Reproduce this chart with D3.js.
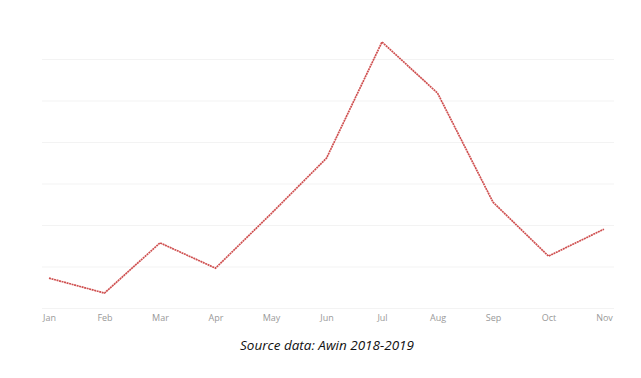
<!DOCTYPE html>
<html>
<head>
<meta charset="utf-8">
<script src="https://cdn.jsdelivr.net/npm/d3@7"></script>
<style>
  body { margin: 0; background: #fff; }
  svg { display: block; }
</style>
</head>
<body>
<svg id="chart" width="641" height="378"></svg>
<script>
const months = ["Jan", "Feb", "Mar", "Apr", "May", "Jun", "Jul", "Aug", "Sep", "Oct", "Nov"];
const values = [7.2, 3.6, 15.7, 9.6, 22.7, 36.1, 64.1, 51.8, 25.5, 12.5, 19.0];
const gridValues = [0, 10, 20, 30, 40, 50, 60];
const caption = "Source data: Awin 2018-2019";

const svg = d3.select("#chart");
const margin = { left: 42, right: 27 };
const width = 641;

const x = d3.scalePoint()
    .domain(months)
    .range([49, 604]);

const y = d3.scaleLinear()
    .domain([0, 60])
    .range([308, 59]);

// light horizontal gridlines
svg.append("g")
    .selectAll("line")
    .data(gridValues)
    .enter()
    .append("line")
    .attr("x1", margin.left)
    .attr("x2", width - margin.right)
    .attr("y1", d => y(d) + 0.5)
    .attr("y2", d => y(d) + 0.5)
    .attr("stroke", "#f3f3f3")
    .attr("stroke-width", 1);

const xAxis = svg.append("g")
    .attr("transform", "translate(0,308)")
    .call(d3.axisBottom(x).tickSize(0).tickPadding(7));
xAxis.select(".domain").remove();
xAxis.selectAll("text")
    .attr("fill", "#999")
    .attr("font-family", "'Open Sans', sans-serif")
    .attr("font-size", 9);

const line = d3.line()
    .x((d, i) => x(months[i]))
    .y(d => y(d));

svg.append("path")
    .datum(values)
    .attr("d", line)
    .attr("fill", "none")
    .attr("stroke", "#cf5050")
    .attr("stroke-width", 1.7)
    .attr("stroke-dasharray", "2,0.6");

svg.append("text")
    .attr("x", 327)
    .attr("y", 350)
    .attr("text-anchor", "middle")
    .attr("font-family", "'Open Sans', sans-serif")
    .attr("font-style", "italic")
    .attr("font-size", 13.5)
    .attr("fill", "#111")
    .text(caption);
</script>
</body>
</html>
